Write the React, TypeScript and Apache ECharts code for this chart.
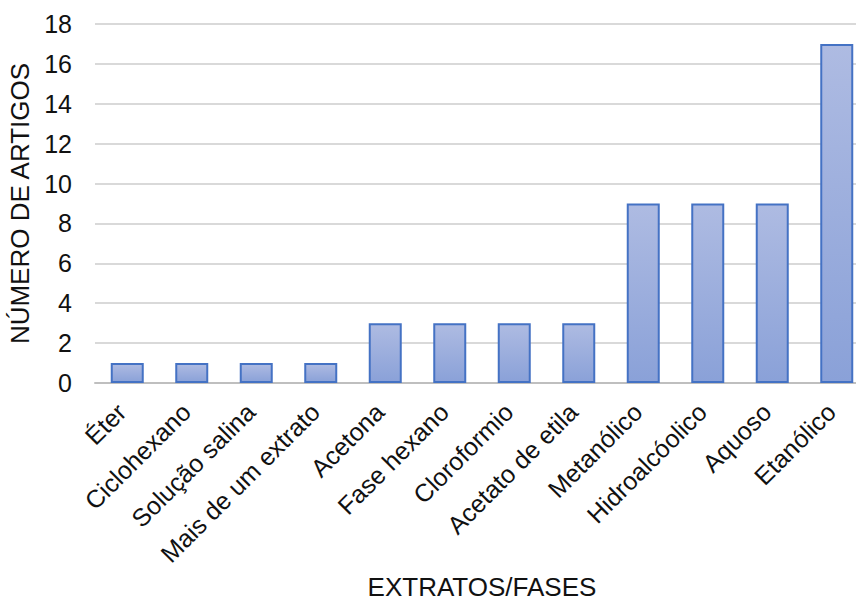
import React, { useEffect, useRef } from "react";
import * as echarts from "echarts";

const categories = [
  "Éter",
  "Ciclohexano",
  "Solução salina",
  "Mais de um extrato",
  "Acetona",
  "Fase hexano",
  "Cloroformio",
  "Acetato de etila",
  "Metanólico",
  "Hidroalcóolico",
  "Aquoso",
  "Etanólico",
];
const articleCounts = [1, 1, 1, 1, 3, 3, 3, 3, 9, 9, 9, 17];
const yTicks = { min: 0, max: 18, interval: 2 };

const FONT = "'Liberation Sans', Arial, sans-serif";

export default function App() {
  const ref = useRef<HTMLDivElement>(null);
  useEffect(() => {
    document.body.style.margin = "0";
    if (!ref.current) return;
    const chart = echarts.init(ref.current, undefined, { renderer: "svg" });
    chart.setOption({
      animation: false,
      backgroundColor: "#ffffff",
      grid: {
        left: 95,
        right: -13,
        top: 24,
        bottom: 222,
        containLabel: false,
        outerBoundsMode: "none",
      },
      xAxis: {
        type: "category",
        data: categories,
        name: "EXTRATOS/FASES",
        nameLocation: "middle",
        nameGap: 190,
        nameTextStyle: { fontFamily: FONT, fontSize: 26, color: "#111" },
        axisLine: { lineStyle: { color: "#bfbfbf", width: 2 } },
        axisTick: { show: false },
        axisLabel: {
          rotate: 45,
          interval: 0,
          margin: 19,
          padding: [0, 8, 0, 0],
          fontFamily: FONT,
          fontSize: 25,
          color: "#111",
        },
      },
      yAxis: {
        type: "value",
        min: yTicks.min,
        max: yTicks.max,
        interval: yTicks.interval,
        name: "NÚMERO DE ARTIGOS",
        nameLocation: "middle",
        nameRotate: 90,
        nameGap: 61,
        nameTextStyle: { fontFamily: FONT, fontSize: 26, color: "#111" },
        axisLine: { show: false },
        axisTick: { show: false },
        axisLabel: { margin: 23, fontFamily: FONT, fontSize: 25, color: "#111" },
        splitLine: { lineStyle: { color: "#d9d9d9", width: 2 } },
      },
      series: [
        {
          type: "bar",
          data: articleCounts,
          barWidth: 33,
          itemStyle: {
            color: new echarts.graphic.LinearGradient(0, 0, 0, 1, [
              { offset: 0, color: "#aebbe2" },
              { offset: 1, color: "#8aa1d8" },
            ]),
            borderColor: "#4472c4",
            borderWidth: 2,
          },
        },
      ],
    });
    return () => chart.dispose();
  }, []);
  return <div ref={ref} style={{ width: 856, height: 605 }} />;
}
